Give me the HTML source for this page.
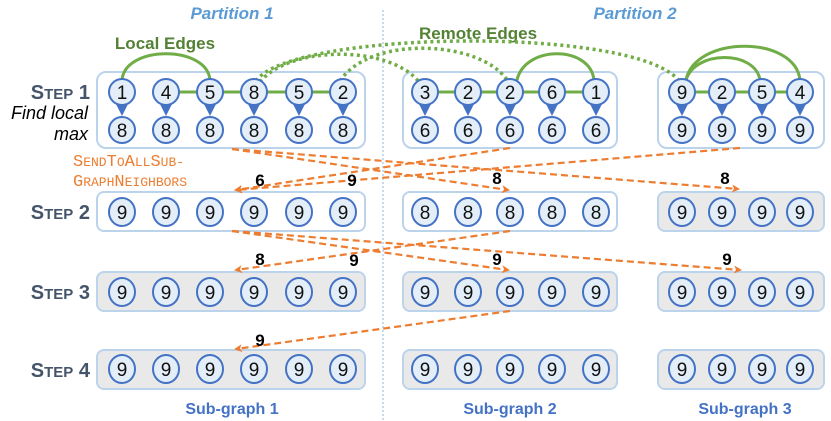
<!DOCTYPE html>
<html><head><style>
html,body{margin:0;padding:0;background:#fff}
svg{display:block}
.n{fill:#e4eef9;stroke:#4472c4;stroke-width:2}
.t{font-family:"Liberation Sans",sans-serif;font-size:19px;fill:#111;text-anchor:middle}
.box{fill:#fff;stroke:#bcd3ec;stroke-width:2}
.gbox{fill:#e9e9e9;stroke:#bcd3ec;stroke-width:2}
.st{font-family:"Liberation Sans",sans-serif;font-weight:bold;fill:#44546a;text-anchor:end}
.or{stroke:#ed7d31;stroke-width:2.2;stroke-dasharray:7 4;fill:none}
.ol{font-family:"Liberation Sans",sans-serif;font-weight:bold;font-size:17px;fill:#000;text-anchor:middle}
.sg{font-family:"Liberation Sans",sans-serif;font-weight:bold;font-size:16px;fill:#4472c4;text-anchor:middle}
</style></head><body>
<svg width="831" height="421" viewBox="0 0 831 421" xmlns="http://www.w3.org/2000/svg">
<defs>
<marker id="a" markerWidth="8" markerHeight="8" refX="6" refY="4" orient="auto" markerUnits="userSpaceOnUse"><path d="M0,0 L8,4 L0,8 L2,4 z" fill="#ed7d31"/></marker>
</defs>
<line x1="383" y1="10" x2="383" y2="421" stroke="#9dc3e6" stroke-width="1.2" stroke-dasharray="2 2"/>
<text x="232" y="19" font-family="Liberation Sans,sans-serif" font-size="17" font-style="italic" font-weight="bold" fill="#5b9bd5" text-anchor="middle">Partition 1</text>
<text x="635" y="19" font-family="Liberation Sans,sans-serif" font-size="17" font-style="italic" font-weight="bold" fill="#5b9bd5" text-anchor="middle">Partition 2</text>
<text x="165" y="49" font-family="Liberation Sans,sans-serif" font-size="17" font-weight="bold" fill="#548235" text-anchor="middle">Local Edges</text>
<text x="478" y="39" font-family="Liberation Sans,sans-serif" font-size="17" font-weight="bold" fill="#548235" text-anchor="middle">Remote Edges</text>

<rect class="box" x="97" y="72" width="268" height="76" rx="9"/>
<rect class="box" x="403" y="72" width="214" height="76" rx="9"/>
<rect class="box" x="658" y="72" width="166" height="76" rx="9"/>
<rect class="box" x="97" y="192" width="268" height="39" rx="7"/>
<rect class="box" x="403" y="192" width="214" height="39" rx="7"/>
<rect class="gbox" x="658" y="192" width="166" height="39" rx="7"/>
<rect class="gbox" x="97" y="272" width="268" height="39" rx="7"/>
<rect class="gbox" x="403" y="272" width="214" height="39" rx="7"/>
<rect class="gbox" x="658" y="272" width="166" height="39" rx="7"/>
<rect class="gbox" x="97" y="350" width="268" height="39" rx="7"/>
<rect class="gbox" x="403" y="350" width="214" height="39" rx="7"/>
<rect class="gbox" x="658" y="350" width="166" height="39" rx="7"/>

<text class="st" x="90" y="99"><tspan font-size="20">S</tspan><tspan font-size="15">TEP</tspan><tspan font-size="20"> 1</tspan></text>
<text class="st" x="90" y="219"><tspan font-size="20">S</tspan><tspan font-size="15">TEP</tspan><tspan font-size="20"> 2</tspan></text>
<text class="st" x="90" y="299"><tspan font-size="20">S</tspan><tspan font-size="15">TEP</tspan><tspan font-size="20"> 3</tspan></text>
<text class="st" x="90" y="377"><tspan font-size="20">S</tspan><tspan font-size="15">TEP</tspan><tspan font-size="20"> 4</tspan></text>
<text x="88" y="119" font-family="Liberation Sans,sans-serif" font-size="18" font-style="italic" text-anchor="end">Find local</text>
<text x="88" y="140" font-family="Liberation Sans,sans-serif" font-size="18" font-style="italic" text-anchor="end">max</text>
<text x="73" y="166" font-family="Liberation Mono,monospace" fill="#ed7d31"><tspan font-size="17">S</tspan><tspan font-size="13">END</tspan><tspan font-size="17">T</tspan><tspan font-size="13">O</tspan><tspan font-size="17">A</tspan><tspan font-size="13">LL</tspan><tspan font-size="17">S</tspan><tspan font-size="13">UB-</tspan></text>
<text x="73" y="186" font-family="Liberation Mono,monospace" fill="#ed7d31"><tspan font-size="17">G</tspan><tspan font-size="13">RAPH</tspan><tspan font-size="17">N</tspan><tspan font-size="13">EIGHBORS</tspan></text>

<g stroke="#70ad47" stroke-width="3" fill="none">
<line x1="166" y1="92" x2="343" y2="92"/>
<line x1="425" y1="92" x2="596" y2="92"/>
<line x1="682" y1="92" x2="800" y2="92"/>
<path d="M122,80 C125,45 207,45 210,80"/>
<path d="M517,80 C525,45 590,45 594,80"/>
<path d="M686,80 C695,50 755,50 760,80"/>
<path d="M686,80 C695,35 795,35 800,80"/>
</g>
<g stroke="#70ad47" stroke-width="3.5" fill="none" stroke-dasharray="3 3.5">
<path d="M256,81 C290,30 640,25 680,82"/>
<path d="M260,82 C290,45 390,45 419,82"/>
<path d="M340,81 C370,35 480,40 507,80"/>
</g>

<g fill="#4472c4">
<path d="M116,104 L128,104 L122,116 z"/><path d="M160,104 L172,104 L166,116 z"/><path d="M204,104 L216,104 L210,116 z"/><path d="M248,104 L260,104 L254,116 z"/><path d="M293,104 L305,104 L299,116 z"/><path d="M337,104 L349,104 L343,116 z"/>
<path d="M419,104 L431,104 L425,116 z"/><path d="M462,104 L474,104 L468,116 z"/><path d="M504,104 L516,104 L510,116 z"/><path d="M546,104 L558,104 L552,116 z"/><path d="M590,104 L602,104 L596,116 z"/>
<path d="M676,104 L688,104 L682,116 z"/><path d="M716,104 L728,104 L722,116 z"/><path d="M756,104 L768,104 L762,116 z"/><path d="M794,104 L806,104 L800,116 z"/>
</g>
<g>
<circle class="n" cx="122" cy="92" r="13"/><circle class="n" cx="166" cy="92" r="13"/><circle class="n" cx="210" cy="92" r="13"/><circle class="n" cx="254" cy="92" r="13"/><circle class="n" cx="299" cy="92" r="13"/><circle class="n" cx="343" cy="92" r="13"/>
<circle class="n" cx="425" cy="92" r="13"/><circle class="n" cx="468" cy="92" r="13"/><circle class="n" cx="510" cy="92" r="13"/><circle class="n" cx="552" cy="92" r="13"/><circle class="n" cx="596" cy="92" r="13"/>
<circle class="n" cx="682" cy="92" r="13"/><circle class="n" cx="722" cy="92" r="13"/><circle class="n" cx="762" cy="92" r="13"/><circle class="n" cx="800" cy="92" r="13"/>
<circle class="n" cx="122" cy="130" r="13"/><circle class="n" cx="166" cy="130" r="13"/><circle class="n" cx="210" cy="130" r="13"/><circle class="n" cx="254" cy="130" r="13"/><circle class="n" cx="299" cy="130" r="13"/><circle class="n" cx="343" cy="130" r="13"/>
<circle class="n" cx="425" cy="130" r="13"/><circle class="n" cx="468" cy="130" r="13"/><circle class="n" cx="510" cy="130" r="13"/><circle class="n" cx="552" cy="130" r="13"/><circle class="n" cx="596" cy="130" r="13"/>
<circle class="n" cx="682" cy="130" r="13"/><circle class="n" cx="722" cy="130" r="13"/><circle class="n" cx="762" cy="130" r="13"/><circle class="n" cx="800" cy="130" r="13"/>
</g>
<g class="t">
<text x="122" y="99">1</text><text x="166" y="99">4</text><text x="210" y="99">5</text><text x="254" y="99">8</text><text x="299" y="99">5</text><text x="343" y="99">2</text>
<text x="425" y="99">3</text><text x="468" y="99">2</text><text x="510" y="99">2</text><text x="552" y="99">6</text><text x="596" y="99">1</text>
<text x="682" y="99">9</text><text x="722" y="99">2</text><text x="762" y="99">5</text><text x="800" y="99">4</text>
<text x="122" y="137">8</text><text x="166" y="137">8</text><text x="210" y="137">8</text><text x="254" y="137">8</text><text x="299" y="137">8</text><text x="343" y="137">8</text>
<text x="425" y="137">6</text><text x="468" y="137">6</text><text x="510" y="137">6</text><text x="552" y="137">6</text><text x="596" y="137">6</text>
<text x="682" y="137">9</text><text x="722" y="137">9</text><text x="762" y="137">9</text><text x="800" y="137">9</text>
</g>

<g transform="translate(0,212)">
<ellipse class="n" cx="122" cy="0" rx="13" ry="14"/><ellipse class="n" cx="166" cy="0" rx="13" ry="14"/><ellipse class="n" cx="210" cy="0" rx="13" ry="14"/><ellipse class="n" cx="254" cy="0" rx="13" ry="14"/><ellipse class="n" cx="299" cy="0" rx="13" ry="14"/><ellipse class="n" cx="343" cy="0" rx="13" ry="14"/>
<ellipse class="n" cx="425" cy="0" rx="13" ry="14"/><ellipse class="n" cx="468" cy="0" rx="13" ry="14"/><ellipse class="n" cx="510" cy="0" rx="13" ry="14"/><ellipse class="n" cx="552" cy="0" rx="13" ry="14"/><ellipse class="n" cx="596" cy="0" rx="13" ry="14"/>
<ellipse class="n" cx="682" cy="0" rx="13" ry="14"/><ellipse class="n" cx="722" cy="0" rx="13" ry="14"/><ellipse class="n" cx="762" cy="0" rx="13" ry="14"/><ellipse class="n" cx="800" cy="0" rx="13" ry="14"/>
<g class="t"><text x="122" y="7">9</text><text x="166" y="7">9</text><text x="210" y="7">9</text><text x="254" y="7">9</text><text x="299" y="7">9</text><text x="343" y="7">9</text>
<text x="425" y="7">8</text><text x="468" y="7">8</text><text x="510" y="7">8</text><text x="552" y="7">8</text><text x="596" y="7">8</text>
<text x="682" y="7">9</text><text x="722" y="7">9</text><text x="762" y="7">9</text><text x="800" y="7">9</text></g>
</g>
<g transform="translate(0,292)">
<ellipse class="n" cx="122" cy="0" rx="13" ry="14"/><ellipse class="n" cx="166" cy="0" rx="13" ry="14"/><ellipse class="n" cx="210" cy="0" rx="13" ry="14"/><ellipse class="n" cx="254" cy="0" rx="13" ry="14"/><ellipse class="n" cx="299" cy="0" rx="13" ry="14"/><ellipse class="n" cx="343" cy="0" rx="13" ry="14"/>
<ellipse class="n" cx="425" cy="0" rx="13" ry="14"/><ellipse class="n" cx="468" cy="0" rx="13" ry="14"/><ellipse class="n" cx="510" cy="0" rx="13" ry="14"/><ellipse class="n" cx="552" cy="0" rx="13" ry="14"/><ellipse class="n" cx="596" cy="0" rx="13" ry="14"/>
<ellipse class="n" cx="682" cy="0" rx="13" ry="14"/><ellipse class="n" cx="722" cy="0" rx="13" ry="14"/><ellipse class="n" cx="762" cy="0" rx="13" ry="14"/><ellipse class="n" cx="800" cy="0" rx="13" ry="14"/>
<g class="t"><text x="122" y="7">9</text><text x="166" y="7">9</text><text x="210" y="7">9</text><text x="254" y="7">9</text><text x="299" y="7">9</text><text x="343" y="7">9</text>
<text x="425" y="7">9</text><text x="468" y="7">9</text><text x="510" y="7">9</text><text x="552" y="7">9</text><text x="596" y="7">9</text>
<text x="682" y="7">9</text><text x="722" y="7">9</text><text x="762" y="7">9</text><text x="800" y="7">9</text></g>
</g>
<g transform="translate(0,369)">
<ellipse class="n" cx="122" cy="0" rx="13" ry="14"/><ellipse class="n" cx="166" cy="0" rx="13" ry="14"/><ellipse class="n" cx="210" cy="0" rx="13" ry="14"/><ellipse class="n" cx="254" cy="0" rx="13" ry="14"/><ellipse class="n" cx="299" cy="0" rx="13" ry="14"/><ellipse class="n" cx="343" cy="0" rx="13" ry="14"/>
<ellipse class="n" cx="425" cy="0" rx="13" ry="14"/><ellipse class="n" cx="468" cy="0" rx="13" ry="14"/><ellipse class="n" cx="510" cy="0" rx="13" ry="14"/><ellipse class="n" cx="552" cy="0" rx="13" ry="14"/><ellipse class="n" cx="596" cy="0" rx="13" ry="14"/>
<ellipse class="n" cx="682" cy="0" rx="13" ry="14"/><ellipse class="n" cx="722" cy="0" rx="13" ry="14"/><ellipse class="n" cx="762" cy="0" rx="13" ry="14"/><ellipse class="n" cx="800" cy="0" rx="13" ry="14"/>
<g class="t"><text x="122" y="7">9</text><text x="166" y="7">9</text><text x="210" y="7">9</text><text x="254" y="7">9</text><text x="299" y="7">9</text><text x="343" y="7">9</text>
<text x="425" y="7">9</text><text x="468" y="7">9</text><text x="510" y="7">9</text><text x="552" y="7">9</text><text x="596" y="7">9</text>
<text x="682" y="7">9</text><text x="722" y="7">9</text><text x="762" y="7">9</text><text x="800" y="7">9</text></g>
</g>

<g class="or">
<line x1="232" y1="149" x2="508" y2="190" marker-end="url(#a)"/>
<line x1="232" y1="149" x2="738" y2="189" marker-end="url(#a)"/>
<line x1="510" y1="148" x2="236" y2="190" marker-end="url(#a)"/>
<line x1="740" y1="148" x2="236" y2="190" marker-end="url(#a)"/>
<line x1="232" y1="231" x2="508" y2="270" marker-end="url(#a)"/>
<line x1="232" y1="231" x2="740" y2="270" marker-end="url(#a)"/>
<line x1="510" y1="231" x2="236" y2="270" marker-end="url(#a)"/>
<line x1="510" y1="311" x2="236" y2="349" marker-end="url(#a)"/>
</g>
<g class="ol">
<text x="260" y="186">6</text><text x="352" y="186">9</text><text x="497" y="184">8</text><text x="725" y="184">8</text>
<text x="260" y="265">8</text><text x="354" y="266">9</text><text x="497" y="265">9</text><text x="727" y="265">9</text>
<text x="260" y="346">9</text>
</g>

<text class="sg" x="232" y="414">Sub-graph 1</text>
<text class="sg" x="510" y="414">Sub-graph 2</text>
<text class="sg" x="745" y="414">Sub-graph 3</text>
</svg>
</body></html>
